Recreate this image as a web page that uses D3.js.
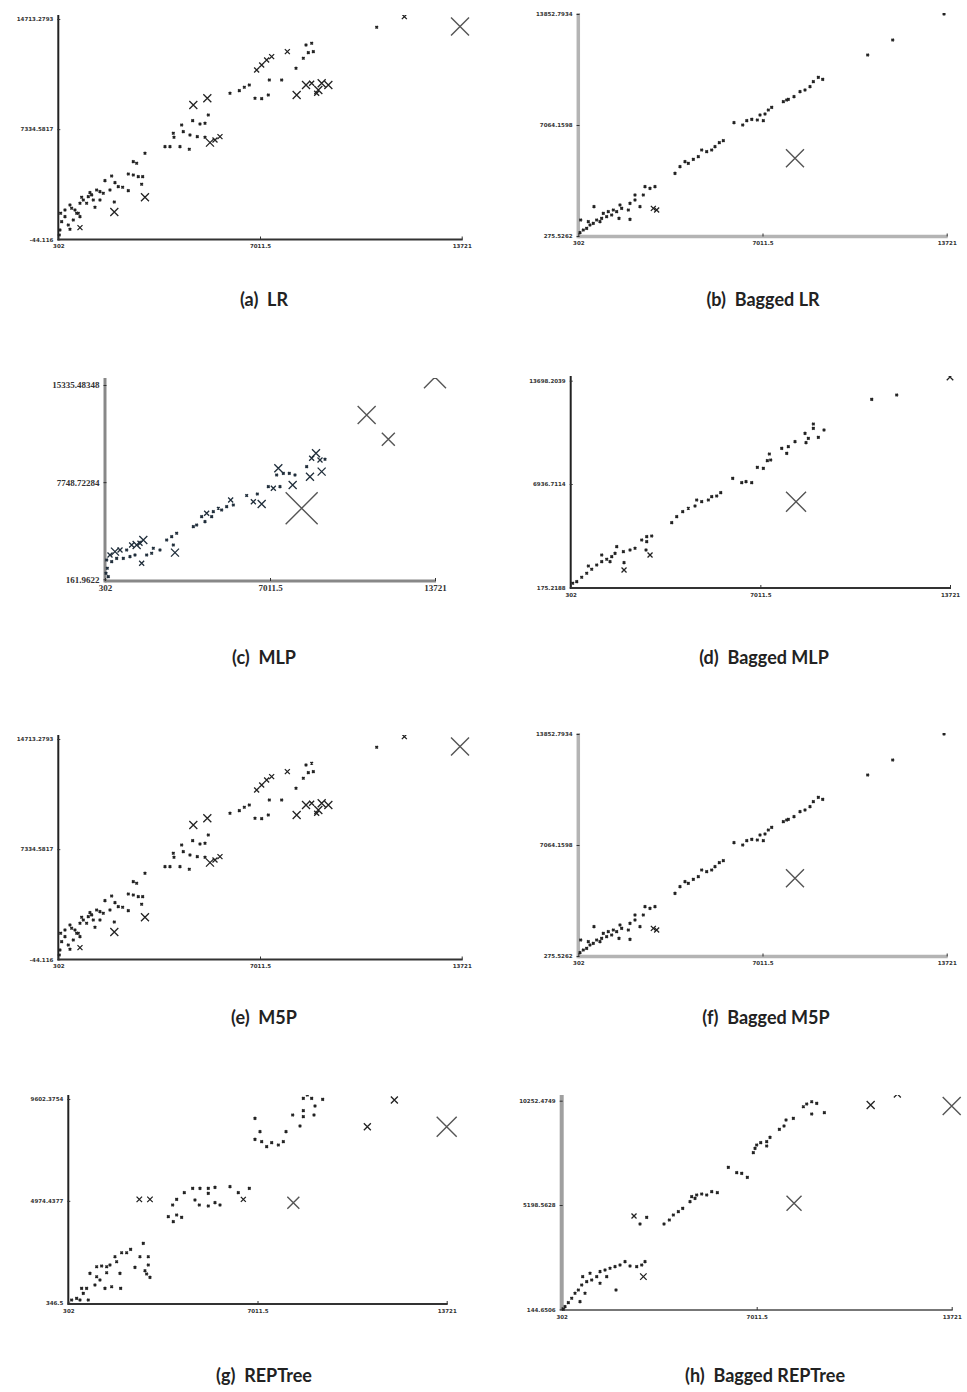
<!DOCTYPE html>
<html><head><meta charset="utf-8">
<script src="https://cdn.jsdelivr.net/npm/d3@7"></script>
<style>body{margin:0;background:#fff}</style></head>
<body><svg id="chart" width="967" height="1392"></svg>
<script>
// ---------- DATA ----------
const captions = ["(a)  LR","(b)  Bagged LR","(c)  MLP","(d)  Bagged MLP","(e)  M5P","(f)  Bagged M5P","(g)  REPTree","(h)  Bagged REPTree"];
const xDomain = [302, 13721];
const xTickLabels = ["302","7011.5","13721"];
const yMins = [-44.116, 275.5262, 161.9622, 175.2188, -44.116, 275.5262, 346.5, 144.6506];
const yMaxs = [14713.2793, 13852.7934, 15335.48348, 13698.2039, 14713.2793, 13852.7934, 9602.3754, 10252.4749];
const yTickLabels = [
  ["-44.116","7334.5817","14713.2793"],
  ["275.5262","7064.1598","13852.7934"],
  ["161.9622","7748.72284","15335.48348"],
  ["175.2188","6936.7114","13698.2039"],
  ["-44.116","7334.5817","14713.2793"],
  ["275.5262","7064.1598","13852.7934"],
  ["346.5","4974.4377","9602.3754"],
  ["144.6506","5198.5628","10252.4749"]
];
// [actual, predicted, error size]
const lrPoints = [[13665,14203,3200],[11813,14872,600],[10893,14158,100],[8542,12974,100],[8730,13086,100],[8786,12528,100],[8619,12461,100],[8453,12081,100],[7921,12528,600],[8209,11411,100],[7399,12193,600],[7233,11970,600],[7067,11635,600],[6900,11300,600],[7322,10630,100],[7732,10630,100],[6845,9402,100],[7067,9380,100],[7288,9625,100],[8231,9625,1200],[8542,10295,1200],[8730,10406,600],[8952,9960,1200],[9063,10406,1200],[9285,10295,1200],[8897,9737,600],[6013,9737,100],[6324,9916,100],[6490,10139,100],[6656,10295,100],[4793,8955,1200],[5259,9402,1200],[5292,8285,100],[5182,7727,100],[5015,7683,100],[4771,7906,100],[4405,7615,100],[4128,7057,100],[4150,6789,100],[4460,7168,100],[4682,6945,100],[4926,6833,100],[5182,6789,100],[5348,6433,1200],[5514,6611,600],[5680,6833,600],[3851,6164,100],[4017,6164,100],[4350,6164,100],[4660,5985,100],[3185,5717,100],[2797,5159,100],[2908,5048,100],[2631,4332,100],[2797,4265,100],[2963,4154,100],[3108,4154,100],[3074,3640,100],[3185,2769,1200],[2076,4199,100],[2187,3752,100],[1854,3886,100],[2021,3261,100],[2298,3484,100],[2442,3440,100],[2631,3216,100],[1577,3261,100],[1688,3149,100],[1799,3038,100],[1355,3082,100],[1466,2591,100],[1244,2368,100],[1688,2591,100],[1522,2100,100],[1134,2591,100],[1023,2368,100],[1078,2770,100],[2165,2457,100],[2165,1787,1200],[690,2257,100],[745,2032,100],[912,1698,100],[1023,1474,100],[801,1251,100],[634,916,100],[690,626,100],[1023,737,600],[524,1474,100],[413,1139,100],[357,581,100],[335,246,100],[379,1698,100],[524,1921,100],[856,1921,100],[967,1698,100],[1300,2815,100],[1411,2930,100]];
const baggedLrPoints = [[13624,13853,100],[11754,12263,100],[10843,11345,100],[9204,9857,100],[9046,9979,100],[8864,9714,100],[8742,9409,100],[8560,9205,100],[8378,9103,100],[8159,8797,100],[7953,8634,100],[7771,8493,100],[7892,8593,100],[7346,8145,100],[7224,7983,100],[7103,7737,100],[6921,7676,100],[7042,7329,100],[6823,7370,100],[6620,7411,100],[6438,7329,100],[6291,7064,100],[5973,7207,100],[5585,6106,100],[5439,5983,100],[5281,5739,100],[5160,5535,100],[4978,5433,100],[4796,5535,100],[4674,5127,100],[4492,4964,100],[4310,4720,100],[4188,4822,100],[4006,4516,100],[3824,4108,100],[8195,5026,3200],[3095,3293,100],[2913,3191,100],[2731,3293,100],[2670,2783,100],[2367,2783,100],[2367,2477,100],[2185,2273,100],[2125,1866,100],[3035,1967,600],[3156,1866,600],[2549,2069,100],[1881,1967,100],[1820,2171,100],[1699,1764,100],[1578,1866,100],[1395,1764,100],[1517,1560,100],[1334,1458,100],[1152,1356,100],[970,1254,100],[849,1050,100],[727,948,100],[606,745,100],[484,643,100],[363,480,100],[873,2069,100],[388,1254,100],[2185,1295,100],[1784,1356,100],[1213,1662,100],[1091,1152,100],[667,1152,100]];
const mlpPoints = [[13721,15950,4000],[10942,12994,3200],[11823,11094,2200],[8299,5706,6000],[8882,10000,1200],[8706,9610,600],[9045,9480,600],[9248,9538,100],[9112,8569,1200],[8637,8172,1200],[8502,8959,100],[7933,7528,1200],[7350,8830,1200],[7282,8309,100],[7554,8439,100],[7797,8439,100],[8028,8309,100],[7418,7398,100],[7147,7268,600],[6944,7398,100],[6673,6046,1200],[6334,6224,600],[6062,6703,100],[6496,6825,100],[5412,6353,600],[5249,5836,100],[5520,5966,100],[5045,5576,100],[4910,5706,100],[4707,5446,100],[4436,5316,600],[4232,5055,100],[4029,4405,100],[3894,4274,100],[4368,4665,100],[4639,5055,100],[3148,2244,1200],[3216,3754,100],[3013,3494,100],[2810,3233,100],[3081,2843,100],[2538,2453,100],[2267,2583,100],[1860,3233,1200],[1793,1413,600],[1589,2843,1200],[1386,2843,600],[1183,2453,100],[912,2453,600],[708,2322,1200],[505,2062,600],[369,1671,100],[573,1541,100],[776,1801,100],[1047,1801,100],[1318,1931,100],[1522,2062,100],[396,1021,100],[342,630,100],[437,370,100],[1725,2973,600],[1996,2062,100],[2199,2192,100]];
const baggedMlpPoints = [[13721,13940,900],[11835,12760,100],[10951,12476,100],[8887,10863,100],[8887,10579,100],[9264,10470,100],[8592,10252,100],[8710,9925,100],[9064,9990,100],[8627,9641,100],[8238,9707,100],[8002,9380,100],[7944,8943,100],[7767,9271,100],[7330,8900,100],[7377,8507,100],[7259,8464,100],[7118,7962,100],[6906,8027,100],[6705,7024,100],[6505,7089,100],[6352,7024,100],[6033,7307,100],[8274,5781,3600],[5609,6370,100],[5467,6152,100],[5290,6108,100],[5172,5890,100],[4936,5781,100],[4759,5890,100],[4700,5497,100],[4464,5344,100],[4264,5125,100],[4052,4800,100],[3875,4407,100],[3168,3534,100],[2991,3491,100],[2814,3273,100],[2991,3164,100],[2578,2728,100],[2401,2618,100],[2166,2509,100],[3109,2291,600],[2967,2618,100],[2189,1310,600],[2189,1789,100],[1930,2837,100],[1871,2400,100],[1753,2182,100],[1576,2008,100],[1399,1855,100],[1222,1637,100],[1045,1354,100],[868,1091,100],[691,830,100],[515,547,100],[373,437,100],[927,1572,100],[1399,2291,100],[1694,1855,100]];
const m5pPoints = lrPoints.map(d => d.slice());
const baggedM5pPoints = baggedLrPoints.map(d => d.slice());
const repTreePoints = [[13721,8345,3600],[11865,9557,1000],[10907,8345,1000],[8282,4891,2000],[6509,5043,600],[2820,5043,700],[3198,5043,700],[6922,8724,100],[7100,8118,100],[6922,7769,100],[7159,7663,100],[7336,7436,100],[7514,7618,100],[7751,7512,100],[7928,7663,100],[8023,8118,100],[8259,8875,100],[8519,8375,100],[8637,8800,100],[8637,9072,100],[8637,9633,100],[8779,9784,100],[8932,9633,100],[9051,9284,100],[9015,8875,100],[9322,9587,100],[4416,5346,100],[4712,5542,100],[4972,5542,100],[5267,5542,100],[5504,5588,100],[6036,5618,100],[6331,5346,100],[6722,5542,100],[4794,5012,100],[4948,4785,100],[5267,4739,100],[5504,4891,100],[5682,4785,100],[5267,5315,100],[4002,4785,100],[4144,5043,100],[3849,4255,100],[4026,4028,100],[4144,4330,100],[4321,4225,100],[2962,3043,100],[2512,2770,100],[2371,2618,100],[2193,2618,100],[1957,2437,100],[2016,2209,100],[1780,2058,100],[1662,1982,100],[1484,2012,100],[1307,1982,100],[1070,1679,100],[1307,1528,100],[1425,1376,100],[1662,1710,100],[2134,1679,100],[2666,1952,100],[2843,2437,100],[3139,2437,100],[3139,2058,100],[3021,1800,100],[3198,1497,100],[3080,1649,100],[2158,997,100],[1839,1073,100],[1602,997,100],[1247,1149,100],[951,997,100],[774,997,100],[834,770,100],[597,543,100],[420,467,100],[716,467,100],[1010,467,100]];
const baggedRepTreePoints = [[13721,9995,3200],[11851,10577,1000],[10933,10043,1200],[8296,5280,2600],[9340,9672,100],[8904,9607,100],[9076,10124,100],[8904,10204,100],[8732,10091,100],[8617,9962,100],[8273,9397,100],[8021,9316,100],[7952,9026,100],[7792,8864,100],[7470,8477,100],[7355,8267,100],[7149,8219,100],[7011,8106,100],[6954,7944,100],[6896,7734,100],[7355,8057,100],[6036,7024,100],[6323,6765,100],[6495,6733,100],[6690,6539,100],[5658,5796,100],[5463,5845,100],[5291,5683,100],[5119,5731,100],[4946,5683,100],[4774,5602,100],[4717,5360,100],[4889,5522,100],[4465,5038,100],[4316,4876,100],[4144,4715,100],[4006,4472,100],[3823,4279,100],[2790,4666,600],[2997,4279,100],[3226,4602,100],[3112,1728,900],[3169,2454,100],[3055,2293,100],[2882,2212,100],[2653,2244,100],[2481,2454,100],[2309,2293,100],[2137,2212,100],[1965,2131,100],[1793,2051,100],[1621,1970,100],[1506,1728,100],[1334,1567,100],[1162,1485,100],[990,1324,100],[875,1082,100],[760,920,100],[646,678,100],[531,468,100],[416,274,100],[359,145,100],[1850,1728,100],[2171,1082,100],[1621,1405,100],[1277,1890,100],[1104,920,100],[932,517,100],[1024,1728,100]];
const allPoints = [lrPoints, baggedLrPoints, mlpPoints, baggedMlpPoints, m5pPoints, baggedM5pPoints, repTreePoints, baggedRepTreePoints];

// ---------- LAYOUT ----------
const layout = [
  {x0:58.3, x1:461.7, yB:239.3, yT:19,    axTop:15,   axBot:239.5, yc:'#222', yw:2,   xc:'#333', xw:2,   cx:264, cy:300},
  {x0:578.3,x1:946.7, yB:236,   yT:14,    axTop:13,   axBot:236.5, yc:'#b4b4b4', yw:3.5, xc:'#b4b4b4', xw:3.5, cx:763, cy:300},
  {x0:105,  x1:435,   yB:579.3, yT:385,   axTop:378,  axBot:581,   yc:'#888', yw:3,   xc:'#888', xw:3,   cx:264, cy:658, big:true},
  {x0:570.7,x1:950,   yB:587.3, yT:380.7, axTop:376,  axBot:588,   yc:'#222', yw:2,   xc:'#333', xw:2,   cx:764, cy:658},
  {x0:58.3, x1:461.7, yB:959.3, yT:739,   axTop:735,  axBot:959.5, yc:'#222', yw:2,   xc:'#333', xw:2,   cx:264, cy:1018},
  {x0:578.3,x1:946.7, yB:956,   yT:734,   axTop:733,  axBot:956.5, yc:'#b4b4b4', yw:3.5, xc:'#b4b4b4', xw:3.5, cx:766, cy:1018},
  {x0:68.3, x1:446.7, yB:1302.7,yT:1099,  axTop:1095, axBot:1304,  yc:'#222', yw:2,   xc:'#333', xw:2,   cx:264, cy:1376},
  {x0:561.7,x1:951.7, yB:1309.3,yT:1100.7,axTop:1095, axBot:1310,  yc:'#a0a0a0', yw:4, xc:'#777', xw:2,   cx:765, cy:1376}
];

const svg = d3.select('#chart');
const sizeScale = d3.scaleLinear().domain([0, 400]).range([1, 2]);

layout.forEach((L, i) => {
  const g = svg.append('g');
  const x = d3.scaleLinear().domain(xDomain).range([L.x0, L.x1]);
  const y = d3.scaleLinear().domain([yMins[i], yMaxs[i]]).range([L.yB, L.yT]);
  const mid = (yMins[i] + yMaxs[i]) / 2;
  const tickFont = L.big ? '"Liberation Serif", serif' : '"DejaVu Sans", sans-serif';
  const tickSize = L.big ? 9 : 5.5;

  g.append('line').attr('x1', L.x0).attr('x2', L.x0).attr('y1', L.axTop).attr('y2', L.axBot + L.xw/2)
    .attr('stroke', L.yc).attr('stroke-width', L.yw);
  g.append('line').attr('x1', L.x0).attr('x2', L.x1 + 1).attr('y1', L.axBot).attr('y2', L.axBot)
    .attr('stroke', L.xc).attr('stroke-width', L.xw);

  const yAxis = d3.axisLeft(y).tickValues([yMins[i], mid, yMaxs[i]]).tickSize(3).tickPadding(1)
    .tickFormat((d, k) => yTickLabels[i][k]);
  const ya = g.append('g').attr('transform', `translate(${L.x0 - L.yw/2},0)`).call(yAxis);
  ya.select('.domain').remove();
  ya.selectAll('line').attr('stroke', '#333').attr('transform', 'translate(3,0)');
  ya.selectAll('text').attr('font-family', tickFont).attr('font-weight', 'bold')
    .attr('font-size', tickSize).attr('fill', '#333');

  const xAxis = d3.axisBottom(x).tickValues([xDomain[0], (xDomain[0]+xDomain[1])/2, xDomain[1]])
    .tickSize(3).tickPadding(L.big ? 4 : 5).tickFormat((d, k) => xTickLabels[k]);
  const xa = g.append('g').attr('transform', `translate(0,${L.axBot - 3})`).call(xAxis);
  xa.select('.domain').remove();
  xa.selectAll('line').attr('stroke', '#333');
  xa.selectAll('text').attr('font-family', tickFont).attr('font-weight', 'bold')
    .attr('font-size', tickSize).attr('fill', '#333');

  const clipId = 'clip' + i;
  svg.append('clipPath').attr('id', clipId).append('rect')
    .attr('x', L.x0 - 20).attr('y', L.axTop).attr('width', L.x1 - L.x0 + 40).attr('height', L.axBot - L.axTop + 20);

  const color = i === 2 ? '#1f2d3a' : '#222';
  g.append('g').attr('clip-path', `url(#${clipId})`)
    .selectAll('path').data(allPoints[i]).join('path')
    .attr('d', d => {
      const cx = x(d[0]), cy = y(d[1]), s = sizeScale(d[2]);
      return `M${cx - s},${cy - s}L${cx + s},${cy + s}M${cx - s},${cy + s}L${cx + s},${cy - s}`;
    })
    .attr('fill', 'none')
    .attr('stroke', d => d[2] > 1500 ? '#555' : color)
    .attr('stroke-width', d => d[2] > 1500 ? 1.4 : (d[2] < 300 ? 1.6 : 1.3));

  svg.append('text').attr('x', L.cx).attr('y', L.cy + 6).attr('text-anchor', 'middle')
    .attr('font-family', 'Lato, "Open Sans", sans-serif').attr('font-weight', 'bold')
    .attr('font-size', 18).attr('fill', '#222').style('white-space', 'pre')
    .text(captions[i]);
});
</script></body></html>
